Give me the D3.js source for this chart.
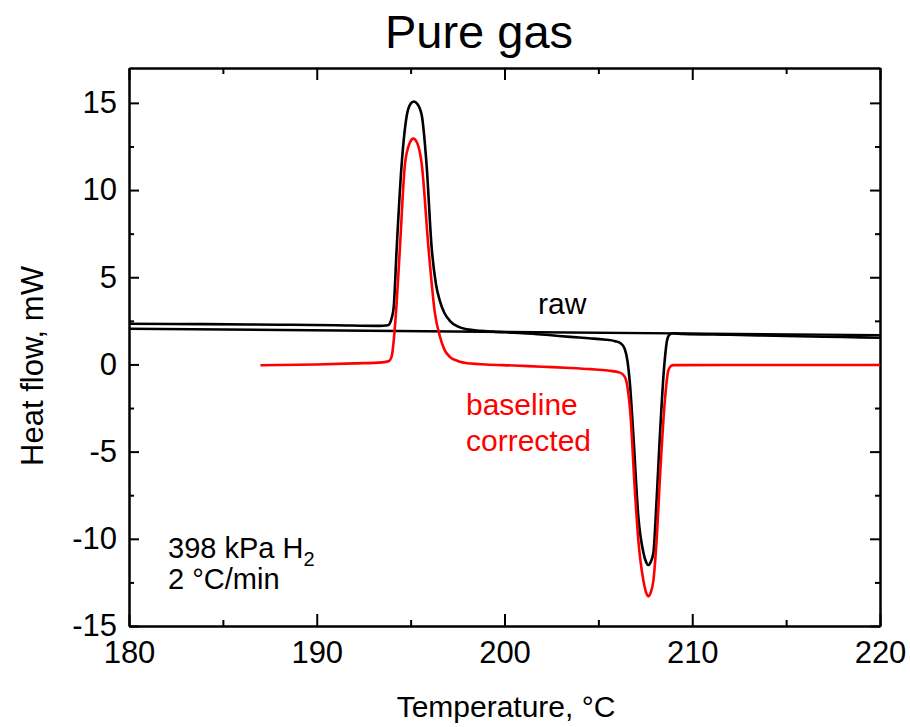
<!DOCTYPE html>
<html>
<head>
<meta charset="utf-8">
<script src="https://cdn.jsdelivr.net/npm/d3@7"></script>
<style>
  html, body { margin: 0; padding: 0; background: #fff; }
  svg { display: block; font-family: "Liberation Sans", Arial, sans-serif; }
</style>
</head>
<body>
<svg id="chart" width="910" height="727"></svg>
<script>
// ---- data ----
const rawT = [180, 184, 188, 191, 193.3, 193.8, 194.0, 194.1, 194.26, 194.52, 194.8, 195.0, 195.17, 195.35, 195.59, 195.85, 196.12, 196.35, 196.56, 196.8, 197.1, 197.5, 198.0, 198.7, 199.4, 200.5, 201.5, 202.5, 203.5, 204.5, 205.3, 205.9, 206.2, 206.4, 206.55, 206.68, 206.86, 207.13, 207.4, 207.55, 207.66, 207.78, 207.93, 208.1, 208.28, 208.5, 208.67, 208.8, 208.95, 209.5, 212, 215, 218, 220];
const rawV = [2.33, 2.31, 2.28, 2.25, 2.21, 2.25, 2.7, 3.3, 6.7, 11.44, 14.3, 14.95, 15.08, 14.95, 14.3, 11.44, 6.7, 4.6, 3.63, 2.95, 2.49, 2.18, 2.01, 1.93, 1.88, 1.82, 1.76, 1.67, 1.58, 1.5, 1.43, 1.33, 1.2, 0.9, 0.2, -1.1, -4.0, -8.75, -10.8, -11.35, -11.5, -11.35, -10.8, -7.8, -4.0, -0.18, 1.44, 1.72, 1.79, 1.75, 1.7, 1.63, 1.57, 1.53];

const corrT = [187, 190, 192, 193.5, 193.85, 194.0, 194.06, 194.26, 194.43, 194.7, 194.95, 195.14, 195.35, 195.59, 195.95, 196.3, 196.56, 196.8, 197.1, 197.5, 198.2, 199, 200.5, 202, 203.5, 204.6, 205.5, 206.15, 206.4, 206.55, 206.72, 206.92, 207.13, 207.4, 207.55, 207.66, 207.78, 207.93, 208.1, 208.31, 208.54, 208.72, 208.85, 209, 212, 220];
const corrV = [-0.05, 0.0, 0.06, 0.12, 0.2, 0.5, 0.96, 3.6, 6.7, 11.5, 12.7, 12.95, 12.7, 11.5, 6.7, 2.9, 1.6, 0.85, 0.42, 0.2, 0.05, 0.0, -0.06, -0.13, -0.2, -0.27, -0.35, -0.47, -0.7, -1.3, -3.04, -6.8, -10.1, -12.4, -13.1, -13.3, -13.1, -12.4, -10.1, -5.9, -2.09, -0.37, -0.1, -0.04, -0.03, -0.03];

const baseT = [180, 220];
const baseV = [2.05, 1.68];

const xMajor = [180, 190, 200, 210, 220];
const xMinor = [185, 195, 205, 215];
const yMajor = [-15, -10, -5, 0, 5, 10, 15];
const yMinor = [-12.5, -7.5, -2.5, 2.5, 7.5, 12.5];

const titleText = "Pure gas";
const xTitle = "Temperature, °C";
const yTitle = "Heat flow, mW";

// ---- layout ----
const svg = d3.select("#chart");
const L = 129, R = 880, T = 68, B = 626;
const x = d3.scaleLinear().domain([180, 220]).range([L, R]);
const y = d3.scaleLinear().domain([-15, 17]).range([B, T]);
const fmt = d => String(d);

function styleAxis(g) {
  g.selectAll("path.domain").attr("stroke", "#000").attr("stroke-width", 2);
  g.selectAll(".tick line").attr("stroke", "#000").attr("stroke-width", 2);
  g.selectAll(".tick text").attr("fill", "#000").attr("font-size", 31)
    .attr("font-family", "'Liberation Sans', Arial, sans-serif");
}
const majX = 12, minX = 6, majY = 10, minY = 5;

// bottom
svg.append("g").attr("transform", `translate(0,${B})`)
  .call(d3.axisBottom(x).tickValues(xMajor).tickSizeInner(-majX).tickSizeOuter(0).tickPadding(majX + 3).tickFormat(fmt))
  .call(styleAxis);
svg.append("g").attr("transform", `translate(0,${B})`)
  .call(d3.axisBottom(x).tickValues(xMinor).tickSizeInner(-minX).tickSizeOuter(0).tickFormat(""))
  .call(styleAxis);
// top
svg.append("g").attr("transform", `translate(0,${T})`)
  .call(d3.axisTop(x).tickValues(xMajor).tickSizeInner(-majX).tickSizeOuter(0).tickFormat(""))
  .call(styleAxis);
svg.append("g").attr("transform", `translate(0,${T})`)
  .call(d3.axisTop(x).tickValues(xMinor).tickSizeInner(-minX).tickSizeOuter(0).tickFormat(""))
  .call(styleAxis);
// left
svg.append("g").attr("transform", `translate(${L},0)`)
  .call(d3.axisLeft(y).tickValues(yMajor).tickSizeInner(-majY).tickSizeOuter(0).tickPadding(majY + 2).tickFormat(fmt))
  .call(styleAxis);
svg.append("g").attr("transform", `translate(${L},0)`)
  .call(d3.axisLeft(y).tickValues(yMinor).tickSizeInner(-minY).tickSizeOuter(0).tickFormat(""))
  .call(styleAxis);
// right
svg.append("g").attr("transform", `translate(${R},0)`)
  .call(d3.axisRight(y).tickValues(yMajor).tickSizeInner(-majY).tickSizeOuter(0).tickFormat(""))
  .call(styleAxis);
svg.append("g").attr("transform", `translate(${R},0)`)
  .call(d3.axisRight(y).tickValues(yMinor).tickSizeInner(-minY).tickSizeOuter(0).tickFormat(""))
  .call(styleAxis);

// lines
const line = d3.line().x(d => x(d[0])).y(d => y(d[1])).curve(d3.curveMonotoneX);
const zip = (a, b) => a.map((v, i) => [v, b[i]]);

const plot = svg.append("g");
plot.append("path").datum(zip(baseT, baseV)).attr("d", line)
  .attr("fill", "none").attr("stroke", "#000").attr("stroke-width", 2.4);
plot.append("path").datum(zip(rawT, rawV)).attr("d", line)
  .attr("fill", "none").attr("stroke", "#000").attr("stroke-width", 2.6).attr("stroke-linejoin", "round");
plot.append("path").datum(zip(corrT, corrV)).attr("d", line)
  .attr("fill", "none").attr("stroke", "#ff0000").attr("stroke-width", 2.6).attr("stroke-linejoin", "round");

// texts
svg.append("text").attr("x", 479).attr("y", 48).attr("text-anchor", "middle")
  .attr("font-size", 47).attr("fill", "#000").text(titleText);
svg.append("text").attr("x", 506).attr("y", 717).attr("text-anchor", "middle")
  .attr("font-size", 30).attr("fill", "#000").text(xTitle);
svg.append("text").attr("transform", "translate(43,366) rotate(-90)").attr("text-anchor", "middle")
  .attr("font-size", 31).attr("fill", "#000").text(yTitle);

svg.append("text").attr("x", 538).attr("y", 314).attr("font-size", 30).attr("fill", "#000").text("raw");
svg.append("text").attr("x", 466).attr("y", 415).attr("font-size", 30).attr("fill", "#ff0000").text("baseline");
svg.append("text").attr("x", 466).attr("y", 451).attr("font-size", 30).attr("fill", "#ff0000").text("corrected");

const ann = svg.append("text").attr("x", 168).attr("y", 558).attr("font-size", 29).attr("fill", "#000");
ann.append("tspan").text("398 kPa H");
ann.append("tspan").attr("font-size", 20).attr("dy", 8).text("2");
svg.append("text").attr("x", 168).attr("y", 589).attr("font-size", 29).attr("fill", "#000").text("2 °C/min");
</script>
</body>
</html>
